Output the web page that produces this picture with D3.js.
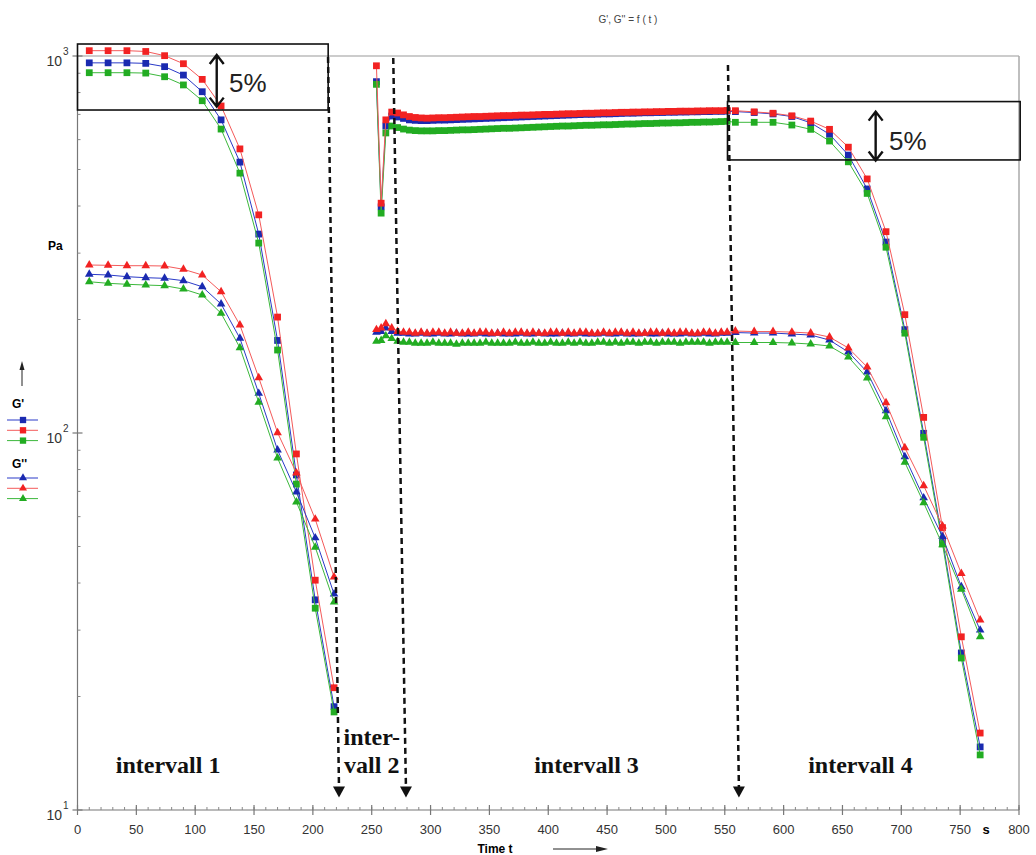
<!DOCTYPE html>
<html lang="de">
<head>
<meta charset="utf-8">
<title>G', G'' = f(t)</title>
<script src="https://cdn.jsdelivr.net/npm/d3@7"></script>
<style>
  body { margin: 0; background: #fff; }
  text { font-family: "Liberation Sans", Arial, sans-serif; }
  .ticklabel { fill: #333; font-size: 13px; }
  .intervall { font-family: "Liberation Serif", "Times New Roman", serif; font-weight: bold; font-size: 24px; fill: #111; }
  .annot { fill: none; stroke: #111; stroke-width: 1.6px; }
</style>
</head>
<body>
<svg width="1036" height="855"></svg>
<script>
// ---- Daten (Zeit in s, Module in Pa) ----
const zeit1 = [10, 26, 42, 58, 74, 90, 106, 122, 138, 154, 170, 186, 202, 218];
const zeit3 = [254, 258, 262, 267, 272, 277, 282, 287, 292, 297, 302, 307, 312, 317, 322, 327, 332, 337, 342, 347,
  352, 357, 362, 367, 372, 377, 382, 387, 392, 397, 402, 407, 412, 417, 422, 427, 432, 437, 442, 447,
  452, 457, 462, 467, 472, 477, 482, 487, 492, 497, 502, 507, 512, 517, 522, 527, 532, 537, 542, 547, 552];
const zeit4 = [559, 575, 591, 607, 623, 639, 655, 671, 687, 703, 719, 735, 751, 767];

// G' (Quadrate)
const gpBlue1  = [959, 959, 959, 956, 937, 890, 804, 677, 523, 337, 176, 77.4, 36.1, 18.8];
const gpRed1   = [1033, 1033, 1033, 1028, 1002, 954, 867, 737, 567, 379, 203, 88, 40.7, 21.1];
const gpGreen1 = [903, 903, 903, 901, 881, 838, 761, 640, 489, 319, 166, 73.2, 34.3, 18.2];

const gpBlue3  = [855, 398, 652, 693, 689, 683, 677, 675, 674, 674, 675, 676, 676, 677, 678, 679, 680, 681, 682, 683,
  684, 685, 686, 687, 688, 689, 690, 691, 692, 693, 694, 695, 696, 697, 698, 699, 700, 700, 701, 702,
  702, 703, 704, 705, 705, 706, 707, 707, 708, 708, 709, 709, 710, 710, 711, 711, 712, 712, 713, 713, 714];
const gpRed3   = [942, 407, 677, 710, 706, 698, 691, 687, 685, 684, 685, 686, 686, 687, 688, 689, 690, 691, 691, 692,
  693, 694, 695, 695, 696, 697, 697, 698, 699, 700, 700, 701, 702, 703, 703, 704, 705, 705, 706, 707,
  707, 708, 709, 709, 710, 710, 711, 711, 712, 712, 713, 713, 714, 714, 714, 715, 715, 716, 716, 716, 717];
const gpGreen3 = [841, 383, 625, 652, 646, 640, 636, 634, 633, 633, 633, 634, 634, 635, 636, 637, 637, 638, 639, 640,
  641, 642, 643, 643, 644, 645, 646, 647, 648, 649, 650, 651, 652, 652, 653, 654, 655, 655, 656, 657,
  657, 658, 659, 660, 660, 661, 662, 662, 663, 664, 664, 665, 665, 666, 667, 667, 668, 668, 669, 670, 671];

const gpBlue4  = [712, 708, 702, 691, 665, 620, 546, 444, 321, 188, 99.8, 52.0, 26.1, 14.7];
const gpRed4   = [716, 711, 705, 694, 672, 639, 573, 472, 342, 206, 110, 56.1, 28.8, 16.0];
const gpGreen4 = [667, 667, 667, 656, 639, 595, 524, 432, 311, 184, 97.4, 50.8, 25.3, 14.0];

// G'' (Dreiecke)
const gppBlue1  = [263.6, 262.5, 259.8, 258.2, 257.2, 253.5, 244.3, 219.9, 178.3, 127.4, 90.1, 69.7, 52.7, 37.4];
const gppRed1   = [279, 278.5, 277.8, 277.8, 277.3, 271.8, 262.5, 237, 193.4, 140.2, 100.2, 78.3, 59.1, 41.5];
const gppGreen1 = [251.9, 249.5, 248, 246.9, 245.9, 240.9, 232.3, 207.7, 168.4, 120.6, 85.8, 65.6, 49.8, 35.6];

const gppBlue3  = [185, 186, 190, 186, 184, 184, 183, 183, 184, 183, 183, 184, 183, 183, 184, 183, 183, 183, 184, 183,
  183, 184, 183, 183, 183, 184, 183, 183, 184, 183, 183, 183, 184, 183, 183, 184, 183, 183, 183, 184,
  183, 183, 184, 183, 183, 183, 184, 183, 183, 184, 183, 183, 183, 184, 183, 183, 184, 183, 183, 184, 184];
const gppRed3   = [188, 190, 195, 190, 186, 185, 185, 184, 185, 184, 185, 185, 184, 185, 184, 184, 185, 184, 185, 185,
  184, 184, 185, 184, 185, 185, 184, 185, 184, 184, 185, 185, 184, 185, 184, 185, 185, 184, 184, 185,
  184, 185, 185, 184, 185, 184, 184, 185, 185, 184, 185, 184, 185, 185, 184, 184, 185, 185, 184, 185, 185];
const gppGreen3 = [175, 176, 181, 178, 175, 174, 174, 173, 173, 173, 174, 173, 173, 173, 172, 173, 173, 173, 173, 174,
  173, 173, 173, 173, 174, 173, 173, 174, 173, 173, 174, 173, 173, 174, 173, 174, 173, 173, 174, 174,
  173, 174, 173, 174, 174, 173, 174, 174, 173, 174, 174, 174, 173, 174, 174, 174, 174, 173, 174, 174, 174];

const gppBlue4  = [184.7, 184.1, 184.1, 183.0, 181.9, 176.4, 164, 145.1, 114.6, 86.5, 67.3, 53.1, 39.1, 30.0];
const gppRed4   = [186.4, 185.8, 185.8, 185.2, 184.1, 179.7, 168.1, 149.6, 120.3, 91.4, 72.5, 56.7, 42.4, 31.9];
const gppGreen4 = [173.8, 173.8, 173.8, 173.3, 172.2, 170.1, 159.1, 139.9, 110.4, 83.6, 65.3, 50.5, 38.5, 28.8];

const xTicks = [0, 50, 100, 150, 200, 250, 300, 350, 400, 450, 500, 550, 600, 650, 700, 750, 800];
const yTicks = [10, 100, 1000];

// ---- Skalen ----
const svg = d3.select("svg");
const x = d3.scaleLinear().domain([0, 800]).range([77.5, 1019]);
const y = d3.scaleLog().domain([10, 1000]).range([810, 56]);

// Rahmen
svg.append("line").attr("x1", x(0)).attr("x2", x(800)).attr("y1", y(1000)).attr("y2", y(1000))
  .style("stroke", "#999").style("stroke-width", 1.2);
svg.append("line").attr("x1", x(800)).attr("x2", x(800)).attr("y1", y(1000)).attr("y2", y(10))
  .style("stroke", "#aaa").style("stroke-width", 1.5);

// Achse X
const axX = svg.append("g");
axX.append("line").attr("x1", x(0)).attr("x2", x(800)).attr("y1", y(10)).attr("y2", y(10))
  .style("stroke", "#777").style("stroke-width", 1.2);
axX.selectAll("line.minor").data(d3.range(0, 801, 10)).enter().append("line")
  .attr("x1", d => x(d)).attr("x2", d => x(d)).attr("y1", y(10) - 3).attr("y2", y(10))
  .style("stroke", "#888");
axX.selectAll("line.major").data(xTicks).enter().append("line")
  .attr("x1", d => x(d)).attr("x2", d => x(d)).attr("y1", y(10) - 5).attr("y2", y(10) + 5)
  .style("stroke", "#777").style("stroke-width", 1.2);
axX.selectAll("text").data(xTicks).enter().append("text")
  .classed("ticklabel", true)
  .attr("x", d => x(d)).attr("y", 834).style("text-anchor", "middle")
  .text(d => d);
svg.append("text").attr("x", 986).attr("y", 834).style("font-weight", "bold").style("font-size", "13px")
  .style("text-anchor", "middle").text("s");
svg.append("text").attr("x", 495).attr("y", 853).style("font-weight", "bold").style("font-size", "12px")
  .style("text-anchor", "middle").text("Time t");
svg.append("line").attr("x1", 553).attr("x2", 597).attr("y1", 849).attr("y2", 849).style("stroke", "#222");
svg.append("path").attr("d", "M596,846 L608,849 L596,852 Z").style("fill", "#222");

// Achse Y
const axY = svg.append("g");
axY.append("line").attr("x1", x(0)).attr("x2", x(0)).attr("y1", y(1000)).attr("y2", y(10))
  .style("stroke", "#777").style("stroke-width", 1.2);
const minorY = [];
[10, 100].forEach(dec => { for (let k = 2; k <= 9; k++) minorY.push(dec * k); });
axY.selectAll("line.minor").data(minorY).enter().append("line")
  .attr("x1", x(0)).attr("x2", x(0) + 3).attr("y1", d => y(d)).attr("y2", d => y(d))
  .style("stroke", "#888");
axY.selectAll("line.major").data(yTicks).enter().append("line")
  .attr("x1", x(0) - 5).attr("x2", x(0) + 5).attr("y1", d => y(d)).attr("y2", d => y(d))
  .style("stroke", "#777").style("stroke-width", 1.2);
const yLab = axY.selectAll("g.lab").data(yTicks).enter().append("g");
yLab.append("text").classed("ticklabel", true).style("font-size", "14px")
  .attr("x", 62).attr("y", d => y(d) + 10).style("text-anchor", "end").text("10");
yLab.append("text").classed("ticklabel", true).style("font-size", "10px")
  .attr("x", 63).attr("y", d => y(d) - 1).text(d => Math.round(Math.log10(d)));

// Titel, Einheit, Legende
svg.append("text").attr("x", 628).attr("y", 23).style("font-size", "10px").style("fill", "#444")
  .style("font-family", "'Liberation Sans Narrow', Arial, sans-serif")
  .style("text-anchor", "middle").text("G', G'' = f ( t )");
svg.append("text").attr("x", 48).attr("y", 250).style("font-weight", "bold").style("font-size", "12px").text("Pa");
svg.append("line").attr("x1", 22).attr("x2", 22).attr("y1", 386).attr("y2", 368).style("stroke", "#222");
svg.append("path").attr("d", "M19.5,370 L22,361 L24.5,370 Z").style("fill", "#222");

const farben = {
  blau:  { mark: "#1a2ab0", line: "#2a3ac8" },
  rot:   { mark: "#f22222", line: "#f45a5a" },
  gruen: { mark: "#22ac22", line: "#3cb83c" }
};

const serien = [
  { farbe: "blau",  sym: d3.symbolSquare,   teile: [[zeit1, gpBlue1], [zeit3.concat(zeit4), gpBlue3.concat(gpBlue4)]] },
  { farbe: "gruen", sym: d3.symbolSquare,   teile: [[zeit1, gpGreen1], [zeit3.concat(zeit4), gpGreen3.concat(gpGreen4)]] },
  { farbe: "rot",   sym: d3.symbolSquare,   teile: [[zeit1, gpRed1], [zeit3.concat(zeit4), gpRed3.concat(gpRed4)]] },
  { farbe: "blau",  sym: d3.symbolTriangle, teile: [[zeit1, gppBlue1], [zeit3.concat(zeit4), gppBlue3.concat(gppBlue4)]] },
  { farbe: "gruen", sym: d3.symbolTriangle, teile: [[zeit1, gppGreen1], [zeit3.concat(zeit4), gppGreen3.concat(gppGreen4)]] },
  { farbe: "rot",   sym: d3.symbolTriangle, teile: [[zeit1, gppRed1], [zeit3.concat(zeit4), gppRed3.concat(gppRed4)]] }
];

const linie = d3.line().x(d => x(d.t)).y(d => y(d.v));

serien.forEach(s => {
  const g = svg.append("g");
  const groesse = s.sym === d3.symbolSquare ? 46 : 32;
  s.teile.forEach(([ts, vs]) => {
    const pts = ts.map((t, i) => ({ t: t, v: vs[i] }));
    g.append("path").datum(pts).attr("d", linie)
      .style("fill", "none").style("stroke", farben[s.farbe].line).style("stroke-width", 1);
    g.selectAll(null).data(pts).enter().append("path")
      .attr("transform", d => "translate(" + x(d.t) + "," + y(d.v) + ")")
      .attr("d", d3.symbol().type(s.sym).size(groesse))
      .style("fill", farben[s.farbe].mark);
  });
});

// Legende
function legende(titel, yTitel, sym, yStart) {
  svg.append("text").attr("x", 12).attr("y", yTitel).style("font-weight", "bold").style("font-size", "12px").text(titel);
  ["blau", "rot", "gruen"].forEach((f, i) => {
    const yy = yStart + i * 10.3;
    svg.append("line").attr("x1", 7).attr("x2", 38).attr("y1", yy).attr("y2", yy)
      .style("stroke", farben[f].line).style("stroke-width", 1);
    svg.append("path").attr("transform", "translate(23," + yy + ")")
      .attr("d", d3.symbol().type(sym).size(sym === d3.symbolSquare ? 40 : 28))
      .style("fill", farben[f].mark);
  });
}
legende("G'", 408, d3.symbolSquare, 420);
legende("G''", 468, d3.symbolTriangle, 478);

// ---- Annotationen (in Datenkoordinaten) ----
const boxen = [
  { t0: 0, t1: 213, v0: 1076, v1: 719 },
  { t0: 552.3, t1: 801, v0: 757, v1: 530 }
];
svg.selectAll("rect.box").data(boxen).enter().append("rect")
  .classed("annot", true)
  .attr("x", d => x(d.t0)).attr("y", d => y(d.v0))
  .attr("width", d => x(d.t1) - x(d.t0)).attr("height", d => y(d.v1) - y(d.v0));

const pfeile5 = [
  { t: 118.3, oben: 1006, unten: 734, tt: 128.7, tv: 802 },
  { t: 678.2, oben: 712, unten: 528, tt: 689.6, tv: 563 }
];
pfeile5.forEach(p => {
  const px = x(p.t), y0 = y(p.oben), y1 = y(p.unten);
  svg.append("path")
    .attr("d", `M${px},${y0} L${px},${y1} M${px - 7},${y0 + 9} L${px},${y0} L${px + 7},${y0 + 9} M${px - 7},${y1 - 9} L${px},${y1} L${px + 7},${y1 - 9}`)
    .style("fill", "none").style("stroke", "#111").style("stroke-width", 2.4);
  svg.append("text").attr("x", x(p.tt)).attr("y", y(p.tv))
    .style("font-size", "26px").style("fill", "#222").text("5%");
});

const grenzen = [
  { tOben: 212.9, vOben: 994, tUnten: 222.2 },
  { tOben: 268.3, vOben: 988, tUnten: 279.1 },
  { tOben: 552.7, vOben: 946, tUnten: 562 }
];
grenzen.forEach(g => {
  const xa = x(g.tOben), ya = y(g.vOben), xb = x(g.tUnten), yb = y(10.8);
  svg.append("line").attr("x1", xa).attr("y1", ya).attr("x2", xb).attr("y2", yb - 9)
    .style("stroke", "#111").style("stroke-width", 2.5).style("stroke-dasharray", "6,4");
  svg.append("path").attr("d", `M${xb - 6},${yb - 11} L${xb + 6},${yb - 11} L${xb},${yb} Z`).style("fill", "#111");
});

const intervalle = [
  { t: 77, v: 12.5, zeilen: ["intervall 1"] },
  { t: 250, v: 14.9, zeilen: ["inter-", "vall 2"] },
  { t: 432.5, v: 12.5, zeilen: ["intervall 3"] },
  { t: 665.3, v: 12.5, zeilen: ["intervall 4"] }
];
intervalle.forEach(iv => {
  iv.zeilen.forEach((z, i) => {
    svg.append("text").classed("intervall", true)
      .attr("x", x(iv.t)).attr("y", y(iv.v) + i * 28).style("text-anchor", "middle").text(z);
  });
});
</script>
</body>
</html>
